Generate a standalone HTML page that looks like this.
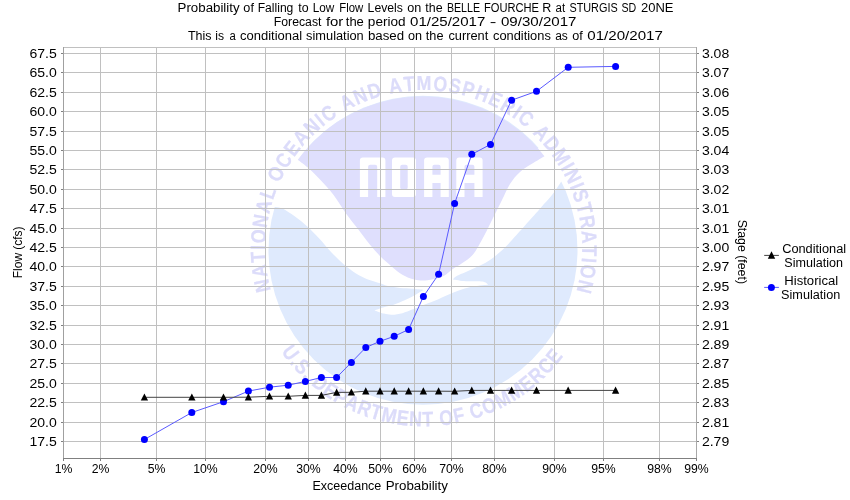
<!DOCTYPE html><html><head><meta charset="utf-8"><style>html,body{margin:0;padding:0;background:#fff;width:850px;height:500px;overflow:hidden}svg{display:block;will-change:transform}text{font-family:"Liberation Sans",sans-serif;stroke:none}.r text{stroke:#dcdcfa;stroke-width:0.25px}</style></head><body>
<svg width="850" height="500" viewBox="0 0 850 500">
<rect width="850" height="500" fill="#fff"/>
<g font-size="12" fill="#000">
<text x="177.59" y="11.7" textLength="62.04" lengthAdjust="spacingAndGlyphs">Probability</text>
<text x="243.37" y="11.7" textLength="10.54" lengthAdjust="spacingAndGlyphs">of</text>
<text x="257.69" y="11.7" textLength="35.67" lengthAdjust="spacingAndGlyphs">Falling</text>
<text x="298.19" y="11.7" textLength="10.33" lengthAdjust="spacingAndGlyphs">to</text>
<text x="312.82" y="11.7" textLength="21.54" lengthAdjust="spacingAndGlyphs">Low</text>
<text x="339.36" y="11.7" textLength="23.93" lengthAdjust="spacingAndGlyphs">Flow</text>
<text x="367.58" y="11.7" textLength="35.37" lengthAdjust="spacingAndGlyphs">Levels</text>
<text x="407.27" y="11.7" textLength="14.07" lengthAdjust="spacingAndGlyphs">on</text>
<text x="425.29" y="11.7" textLength="17.26" lengthAdjust="spacingAndGlyphs">the</text>
<text x="446.91" y="11.7" textLength="33.14" lengthAdjust="spacingAndGlyphs">BELLE</text>
<text x="483.97" y="11.7" textLength="55.08" lengthAdjust="spacingAndGlyphs">FOURCHE</text>
<text x="542.36" y="11.7" textLength="9.03" lengthAdjust="spacingAndGlyphs">R</text>
<text x="555.52" y="11.7" textLength="9.58" lengthAdjust="spacingAndGlyphs">at</text>
<text x="569.40" y="11.7" textLength="48.29" lengthAdjust="spacingAndGlyphs">STURGIS</text>
<text x="621.51" y="11.7" textLength="14.79" lengthAdjust="spacingAndGlyphs">SD</text>
<text x="640.95" y="11.7" textLength="32.51" lengthAdjust="spacingAndGlyphs">20NE</text>
<text x="273.78" y="25.9" textLength="47.71" lengthAdjust="spacingAndGlyphs">Forecast</text>
<text x="325.91" y="25.9" textLength="17.44" lengthAdjust="spacingAndGlyphs">for</text>
<text x="345.78" y="25.9" textLength="18.09" lengthAdjust="spacingAndGlyphs">the</text>
<text x="367.89" y="25.9" textLength="37.77" lengthAdjust="spacingAndGlyphs">period</text>
<text x="410.04" y="25.9" textLength="75.23" lengthAdjust="spacingAndGlyphs">01/25/2017</text>
<text x="489.89" y="25.9" textLength="6.61" lengthAdjust="spacingAndGlyphs">-</text>
<text x="500.93" y="25.9" textLength="75.54" lengthAdjust="spacingAndGlyphs">09/30/2017</text>
<text x="187.94" y="39.6" textLength="23.55" lengthAdjust="spacingAndGlyphs">This</text>
<text x="215.39" y="39.6" textLength="8.78" lengthAdjust="spacingAndGlyphs">is</text>
<text x="229.53" y="39.6" textLength="6.29" lengthAdjust="spacingAndGlyphs">a</text>
<text x="240.06" y="39.6" textLength="62.14" lengthAdjust="spacingAndGlyphs">conditional</text>
<text x="306.13" y="39.6" textLength="57.60" lengthAdjust="spacingAndGlyphs">simulation</text>
<text x="367.92" y="39.6" textLength="36.17" lengthAdjust="spacingAndGlyphs">based</text>
<text x="407.97" y="39.6" textLength="14.07" lengthAdjust="spacingAndGlyphs">on</text>
<text x="425.79" y="39.6" textLength="17.68" lengthAdjust="spacingAndGlyphs">the</text>
<text x="448.47" y="39.6" textLength="39.84" lengthAdjust="spacingAndGlyphs">current</text>
<text x="492.96" y="39.6" textLength="57.91" lengthAdjust="spacingAndGlyphs">conditions</text>
<text x="555.20" y="39.6" textLength="12.67" lengthAdjust="spacingAndGlyphs">as</text>
<text x="572.17" y="39.6" textLength="10.54" lengthAdjust="spacingAndGlyphs">of</text>
<text x="587.33" y="39.6" textLength="75.54" lengthAdjust="spacingAndGlyphs">01/20/2017</text>
</g>
<circle cx="423.0" cy="250.2" r="154.5" fill="#dfeafd"/>
<path d="M262 207L282 148L565 148L580 180L561.3 181.5L561.3 181.5C559.8 183.7 555.6 190.5 552.2 194.8C548.8 199.1 544.5 203.4 541.0 207.4C537.5 211.4 536.0 213.2 531.2 218.6C526.4 224.0 517.2 234.4 512.0 240.0C506.8 245.6 503.7 248.7 500.0 252.0C496.3 255.3 493.3 257.7 490.0 260.0C486.7 262.3 483.7 263.8 480.0 265.6C476.3 267.4 472.0 269.2 468.0 271.0C464.0 272.8 458.5 275.0 456.0 276.4C453.5 277.8 453.5 278.9 453.0 279.4L453.0 279.4C455.1 279.7 461.0 280.8 465.9 281.2C470.8 281.6 478.7 281.0 482.4 281.6C486.1 282.2 487.2 284.2 488.2 284.7L488.2 284.7C487.2 284.8 485.3 284.9 482.4 285.3C479.5 285.7 474.5 286.1 470.6 287.0C466.7 287.9 462.7 289.2 458.8 290.6C454.9 292.0 450.9 293.6 447.0 295.3C443.1 297.0 439.8 298.8 435.3 300.6C430.8 302.5 423.9 304.9 420.0 306.4C416.1 307.9 414.9 308.5 412.0 309.6C409.1 310.7 405.7 312.3 402.4 313.2C399.1 314.1 395.1 314.7 392.0 314.8C388.9 314.9 386.9 314.3 384.0 313.6C381.1 312.9 376.0 310.9 374.4 310.4L374.4 310.4C376.0 309.9 380.8 308.1 384.0 307.2C387.2 306.3 390.7 305.7 393.6 304.8C396.5 303.9 398.5 302.9 401.6 301.6C404.7 300.3 408.9 298.4 412.0 296.8C415.1 295.2 418.1 293.1 420.0 292.0C421.9 290.9 422.9 290.3 423.5 290.0L423.5 290.0C421.7 289.8 416.7 289.1 412.8 288.8C408.9 288.5 404.1 288.5 400.0 288.0C395.9 287.5 391.3 286.8 388.0 286.0C384.7 285.2 383.3 284.3 380.0 283.2C376.7 282.1 372.0 281.0 368.0 279.4C364.0 277.8 360.0 275.9 356.0 273.4C352.0 270.9 348.0 267.8 344.0 264.4C340.0 261.0 336.2 257.4 332.0 253.0C327.8 248.6 323.2 242.7 319.0 238.2C314.8 233.7 311.0 229.8 307.0 226.2C303.0 222.6 299.0 219.5 295.0 216.6C291.0 213.7 286.2 210.4 283.0 208.8C279.8 207.2 277.0 207.3 275.8 207.0Z" fill="#fff"/>
<path d="M297.8 159.8A154.5 154.5 0 0 1 544.5 156.3L544.5 156.3C542.8 157.4 538.1 160.0 534.0 162.6C529.9 165.2 524.0 168.4 520.0 172.0C516.0 175.6 513.0 179.3 510.0 184.0C507.0 188.7 504.7 194.7 502.0 200.0C499.3 205.3 497.0 210.0 494.0 216.0C491.0 222.0 487.5 229.5 484.0 236.0C480.5 242.5 476.5 250.3 472.8 254.8C469.1 259.3 465.4 260.8 462.0 263.2C458.6 265.6 455.4 267.1 452.4 269.2C449.4 271.3 446.9 274.2 444.0 275.8C441.1 277.4 438.5 278.0 435.3 278.8C432.1 279.6 428.5 280.4 425.0 280.5C421.5 280.6 418.2 280.6 414.4 279.6C410.6 278.7 406.2 277.0 402.4 274.8C398.6 272.6 395.2 269.4 391.6 266.4C388.0 263.4 384.5 260.5 380.8 256.8C377.1 253.1 373.5 248.9 369.6 244.2C365.7 239.5 361.6 233.8 357.6 228.6C353.6 223.4 349.6 218.6 345.6 213.0C341.6 207.4 337.9 200.6 333.6 195.0C329.3 189.4 324.1 184.0 320.0 179.6C315.9 175.2 312.9 172.1 309.2 168.8C305.5 165.5 299.7 161.3 297.8 159.8Z" fill="#dfdffd"/>
<g fill="#fff">
<path d="M359.9 197V160.4Q359.9 157.4 362.9 157.4H382.4Q385.4 157.4 385.4 160.4V197H377.2V166.8Q377.2 164.8 375.2 164.8H370.1Q368.1 164.8 368.1 166.8V197Z"/>
<path fill-rule="evenodd" d="M392 160.4Q392 157.4 395 157.4H413Q416 157.4 416 160.4V194Q416 197 413 197H395Q392 197 392 194Z M400.2 166.8V187.5Q400.2 189.5 402.2 189.5H405.7Q407.7 189.5 407.7 187.5V166.8Q407.7 164.8 405.7 164.8H402.2Q400.2 164.8 400.2 166.8Z"/>
<path fill-rule="evenodd" d="M424.1 197V160.4Q424.1 157.4 427.1 157.4H445.8Q448.8 157.4 448.8 160.4V197H440.6V183H432.4V197Z M432.4 166.8V174.7H440.6V166.8Q440.6 164.8 438.6 164.8H434.4Q432.4 164.8 432.4 166.8Z"/>
<path fill-rule="evenodd" d="M456.3 197V160.4Q456.3 157.4 459.3 157.4H479.6Q482.6 157.4 482.6 160.4V197H474.4V183H464.5V197Z M464.5 166.8V174.7H474.4V166.8Q474.4 164.8 472.4 164.8H466.5Q464.5 164.8 464.5 166.8Z"/>
</g>
<g class="r" font-size="21" font-weight="bold" fill="#dcdcfa" text-anchor="middle">
<text transform="translate(269.28,284.10) rotate(257.13) scale(0.85,1)">N</text>
<text transform="translate(266.73,270.07) rotate(262.29) scale(0.85,1)">A</text>
<text transform="translate(265.50,256.85) rotate(267.09) scale(0.85,1)">T</text>
<text transform="translate(265.30,247.54) rotate(270.45) scale(0.85,1)">I</text>
<text transform="translate(265.76,236.75) rotate(274.36) scale(0.85,1)">O</text>
<text transform="translate(267.56,222.10) rotate(279.70) scale(0.85,1)">N</text>
<text transform="translate(270.60,208.16) rotate(284.86) scale(0.85,1)">A</text>
<text transform="translate(274.54,195.49) rotate(289.66) scale(0.85,1)">L</text>
<text transform="translate(282.48,177.02) rotate(296.93) scale(0.85,1)">O</text>
<text transform="translate(289.77,164.19) rotate(302.26) scale(0.85,1)">C</text>
<text transform="translate(297.63,152.87) rotate(307.25) scale(0.85,1)">E</text>
<text transform="translate(306.43,142.28) rotate(312.23) scale(0.85,1)">A</text>
<text transform="translate(316.48,132.16) rotate(317.38) scale(0.85,1)">N</text>
<text transform="translate(324.29,125.43) rotate(321.11) scale(0.85,1)">I</text>
<text transform="translate(332.51,119.23) rotate(324.83) scale(0.85,1)">C</text>
<text transform="translate(350.09,108.48) rotate(332.28) scale(0.85,1)">A</text>
<text transform="translate(363.00,102.42) rotate(337.44) scale(0.85,1)">N</text>
<text transform="translate(376.41,97.55) rotate(342.60) scale(0.85,1)">D</text>
<text transform="translate(396.42,92.68) rotate(350.05) scale(0.85,1)">A</text>
<text transform="translate(409.58,90.94) rotate(354.85) scale(0.85,1)">T</text>
<text transform="translate(423.83,90.30) rotate(360.01) scale(0.85,1)">M</text>
<text transform="translate(439.56,91.09) rotate(365.71) scale(0.85,1)">O</text>
<text transform="translate(453.68,93.14) rotate(370.87) scale(0.85,1)">S</text>
<text transform="translate(466.60,96.19) rotate(375.67) scale(0.85,1)">P</text>
<text transform="translate(479.69,100.48) rotate(380.65) scale(0.85,1)">H</text>
<text transform="translate(492.36,105.89) rotate(385.63) scale(0.85,1)">E</text>
<text transform="translate(504.51,112.39) rotate(390.61) scale(0.85,1)">R</text>
<text transform="translate(513.20,117.92) rotate(394.33) scale(0.85,1)">I</text>
<text transform="translate(521.51,124.00) rotate(398.06) scale(0.85,1)">C</text>
<text transform="translate(536.87,137.73) rotate(405.51) scale(0.85,1)">A</text>
<text transform="translate(546.40,148.34) rotate(410.67) scale(0.85,1)">D</text>
<text transform="translate(555.49,160.59) rotate(416.19) scale(0.85,1)">M</text>
<text transform="translate(561.43,170.19) rotate(420.27) scale(0.85,1)">I</text>
<text transform="translate(566.25,179.30) rotate(423.99) scale(0.85,1)">N</text>
<text transform="translate(570.47,188.70) rotate(427.72) scale(0.85,1)">I</text>
<text transform="translate(573.90,197.89) rotate(431.27) scale(0.85,1)">S</text>
<text transform="translate(577.52,210.15) rotate(435.89) scale(0.85,1)">T</text>
<text transform="translate(580.21,223.15) rotate(440.69) scale(0.85,1)">R</text>
<text transform="translate(581.88,237.32) rotate(445.85) scale(0.85,1)">A</text>
<text transform="translate(582.29,250.58) rotate(450.64) scale(0.85,1)">T</text>
<text transform="translate(581.91,259.89) rotate(454.01) scale(0.85,1)">I</text>
<text transform="translate(580.79,270.63) rotate(457.92) scale(0.85,1)">O</text>
<text transform="translate(578.08,285.14) rotate(463.25) scale(0.85,1)">N</text>
<text transform="translate(284.77,356.79) rotate(53.13) scale(0.85,1)">U</text>
<text transform="translate(290.93,364.53) rotate(49.86) scale(0.85,1)">.</text>
<text transform="translate(297.18,371.55) rotate(46.76) scale(0.85,1)">S</text>
<text transform="translate(303.80,378.23) rotate(43.66) scale(0.85,1)">.</text>
<text transform="translate(315.73,388.62) rotate(38.45) scale(0.85,1)">D</text>
<text transform="translate(326.51,396.52) rotate(34.04) scale(0.85,1)">E</text>
<text transform="translate(337.44,403.32) rotate(29.80) scale(0.85,1)">P</text>
<text transform="translate(349.28,409.51) rotate(25.39) scale(0.85,1)">A</text>
<text transform="translate(362.03,414.95) rotate(20.82) scale(0.85,1)">R</text>
<text transform="translate(374.21,419.08) rotate(16.58) scale(0.85,1)">T</text>
<text transform="translate(387.64,422.50) rotate(12.01) scale(0.85,1)">M</text>
<text transform="translate(401.79,424.90) rotate(7.28) scale(0.85,1)">E</text>
<text transform="translate(415.10,426.08) rotate(2.87) scale(0.85,1)">N</text>
<text transform="translate(427.96,426.25) rotate(-1.37) scale(0.85,1)">T</text>
<text transform="translate(447.19,424.72) rotate(-7.73) scale(0.85,1)">O</text>
<text transform="translate(460.35,422.41) rotate(-12.14) scale(0.85,1)">F</text>
<text transform="translate(478.47,417.48) rotate(-18.34) scale(0.85,1)">C</text>
<text transform="translate(491.90,412.40) rotate(-23.07) scale(0.85,1)">O</text>
<text transform="translate(505.74,405.77) rotate(-28.13) scale(0.85,1)">M</text>
<text transform="translate(519.35,397.68) rotate(-33.35) scale(0.85,1)">M</text>
<text transform="translate(531.00,389.30) rotate(-38.08) scale(0.85,1)">E</text>
<text transform="translate(541.19,380.66) rotate(-42.49) scale(0.85,1)">R</text>
<text transform="translate(551.03,370.90) rotate(-47.06) scale(0.85,1)">C</text>
<text transform="translate(559.75,360.77) rotate(-51.47) scale(0.85,1)">E</text>
</g>
<g stroke="#c0c0c0" stroke-width="1" shape-rendering="crispEdges">
<line x1="63" y1="53.5" x2="697" y2="53.5"/>
<line x1="63" y1="72.5" x2="697" y2="72.5"/>
<line x1="63" y1="92.5" x2="697" y2="92.5"/>
<line x1="63" y1="111.5" x2="697" y2="111.5"/>
<line x1="63" y1="131.5" x2="697" y2="131.5"/>
<line x1="63" y1="150.5" x2="697" y2="150.5"/>
<line x1="63" y1="169.5" x2="697" y2="169.5"/>
<line x1="63" y1="189.5" x2="697" y2="189.5"/>
<line x1="63" y1="208.5" x2="697" y2="208.5"/>
<line x1="63" y1="228.5" x2="697" y2="228.5"/>
<line x1="63" y1="247.5" x2="697" y2="247.5"/>
<line x1="63" y1="266.5" x2="697" y2="266.5"/>
<line x1="63" y1="286.5" x2="697" y2="286.5"/>
<line x1="63" y1="305.5" x2="697" y2="305.5"/>
<line x1="63" y1="325.5" x2="697" y2="325.5"/>
<line x1="63" y1="344.5" x2="697" y2="344.5"/>
<line x1="63" y1="363.5" x2="697" y2="363.5"/>
<line x1="63" y1="383.5" x2="697" y2="383.5"/>
<line x1="63" y1="402.5" x2="697" y2="402.5"/>
<line x1="63" y1="422.5" x2="697" y2="422.5"/>
<line x1="63" y1="441.5" x2="697" y2="441.5"/>
<line x1="63.5" y1="47" x2="63.5" y2="458"/>
<line x1="100.5" y1="47" x2="100.5" y2="458"/>
<line x1="156.5" y1="47" x2="156.5" y2="458"/>
<line x1="205.5" y1="47" x2="205.5" y2="458"/>
<line x1="265.5" y1="47" x2="265.5" y2="458"/>
<line x1="308.5" y1="47" x2="308.5" y2="458"/>
<line x1="345.5" y1="47" x2="345.5" y2="458"/>
<line x1="380.5" y1="47" x2="380.5" y2="458"/>
<line x1="414.5" y1="47" x2="414.5" y2="458"/>
<line x1="451.5" y1="47" x2="451.5" y2="458"/>
<line x1="494.5" y1="47" x2="494.5" y2="458"/>
<line x1="554.5" y1="47" x2="554.5" y2="458"/>
<line x1="603.5" y1="47" x2="603.5" y2="458"/>
<line x1="659.5" y1="47" x2="659.5" y2="458"/>
<line x1="696.5" y1="47" x2="696.5" y2="458"/>
<line x1="63" y1="47.5" x2="697" y2="47.5"/>
</g>
<g stroke="#808080" stroke-width="1" shape-rendering="crispEdges">
<line x1="63.5" y1="47" x2="63.5" y2="459" stroke="#a0a0a0"/>
<line x1="696.5" y1="47" x2="696.5" y2="459" stroke="#a8a8a8"/>
<line x1="63" y1="458.5" x2="697" y2="458.5"/>
<line x1="61" y1="53.5" x2="63" y2="53.5"/>
<line x1="697" y1="53.5" x2="699" y2="53.5"/>
<line x1="61" y1="72.5" x2="63" y2="72.5"/>
<line x1="697" y1="72.5" x2="699" y2="72.5"/>
<line x1="61" y1="92.5" x2="63" y2="92.5"/>
<line x1="697" y1="92.5" x2="699" y2="92.5"/>
<line x1="61" y1="111.5" x2="63" y2="111.5"/>
<line x1="697" y1="111.5" x2="699" y2="111.5"/>
<line x1="61" y1="131.5" x2="63" y2="131.5"/>
<line x1="697" y1="131.5" x2="699" y2="131.5"/>
<line x1="61" y1="150.5" x2="63" y2="150.5"/>
<line x1="697" y1="150.5" x2="699" y2="150.5"/>
<line x1="61" y1="169.5" x2="63" y2="169.5"/>
<line x1="697" y1="169.5" x2="699" y2="169.5"/>
<line x1="61" y1="189.5" x2="63" y2="189.5"/>
<line x1="697" y1="189.5" x2="699" y2="189.5"/>
<line x1="61" y1="208.5" x2="63" y2="208.5"/>
<line x1="697" y1="208.5" x2="699" y2="208.5"/>
<line x1="61" y1="228.5" x2="63" y2="228.5"/>
<line x1="697" y1="228.5" x2="699" y2="228.5"/>
<line x1="61" y1="247.5" x2="63" y2="247.5"/>
<line x1="697" y1="247.5" x2="699" y2="247.5"/>
<line x1="61" y1="266.5" x2="63" y2="266.5"/>
<line x1="697" y1="266.5" x2="699" y2="266.5"/>
<line x1="61" y1="286.5" x2="63" y2="286.5"/>
<line x1="697" y1="286.5" x2="699" y2="286.5"/>
<line x1="61" y1="305.5" x2="63" y2="305.5"/>
<line x1="697" y1="305.5" x2="699" y2="305.5"/>
<line x1="61" y1="325.5" x2="63" y2="325.5"/>
<line x1="697" y1="325.5" x2="699" y2="325.5"/>
<line x1="61" y1="344.5" x2="63" y2="344.5"/>
<line x1="697" y1="344.5" x2="699" y2="344.5"/>
<line x1="61" y1="363.5" x2="63" y2="363.5"/>
<line x1="697" y1="363.5" x2="699" y2="363.5"/>
<line x1="61" y1="383.5" x2="63" y2="383.5"/>
<line x1="697" y1="383.5" x2="699" y2="383.5"/>
<line x1="61" y1="402.5" x2="63" y2="402.5"/>
<line x1="697" y1="402.5" x2="699" y2="402.5"/>
<line x1="61" y1="422.5" x2="63" y2="422.5"/>
<line x1="697" y1="422.5" x2="699" y2="422.5"/>
<line x1="61" y1="441.5" x2="63" y2="441.5"/>
<line x1="697" y1="441.5" x2="699" y2="441.5"/>
<line x1="63.5" y1="459" x2="63.5" y2="461"/>
<line x1="100.5" y1="459" x2="100.5" y2="461"/>
<line x1="156.5" y1="459" x2="156.5" y2="461"/>
<line x1="205.5" y1="459" x2="205.5" y2="461"/>
<line x1="265.5" y1="459" x2="265.5" y2="461"/>
<line x1="308.5" y1="459" x2="308.5" y2="461"/>
<line x1="345.5" y1="459" x2="345.5" y2="461"/>
<line x1="380.5" y1="459" x2="380.5" y2="461"/>
<line x1="414.5" y1="459" x2="414.5" y2="461"/>
<line x1="451.5" y1="459" x2="451.5" y2="461"/>
<line x1="494.5" y1="459" x2="494.5" y2="461"/>
<line x1="554.5" y1="459" x2="554.5" y2="461"/>
<line x1="603.5" y1="459" x2="603.5" y2="461"/>
<line x1="659.5" y1="459" x2="659.5" y2="461"/>
<line x1="696.5" y1="459" x2="696.5" y2="461"/>
</g>
<g font-size="12" fill="#000">
<text x="56.8" y="57.9" text-anchor="end" textLength="27.33" lengthAdjust="spacingAndGlyphs">67.5</text>
<text x="701.9" y="57.9" textLength="27.33" lengthAdjust="spacingAndGlyphs">3.08</text>
<text x="56.8" y="76.9" text-anchor="end" textLength="27.33" lengthAdjust="spacingAndGlyphs">65.0</text>
<text x="701.9" y="76.9" textLength="27.33" lengthAdjust="spacingAndGlyphs">3.07</text>
<text x="56.8" y="96.9" text-anchor="end" textLength="27.33" lengthAdjust="spacingAndGlyphs">62.5</text>
<text x="701.9" y="96.9" textLength="27.33" lengthAdjust="spacingAndGlyphs">3.06</text>
<text x="56.8" y="115.9" text-anchor="end" textLength="27.33" lengthAdjust="spacingAndGlyphs">60.0</text>
<text x="701.9" y="115.9" textLength="27.33" lengthAdjust="spacingAndGlyphs">3.05</text>
<text x="56.8" y="135.9" text-anchor="end" textLength="27.33" lengthAdjust="spacingAndGlyphs">57.5</text>
<text x="701.9" y="135.9" textLength="27.33" lengthAdjust="spacingAndGlyphs">3.05</text>
<text x="56.8" y="154.9" text-anchor="end" textLength="27.33" lengthAdjust="spacingAndGlyphs">55.0</text>
<text x="701.9" y="154.9" textLength="27.33" lengthAdjust="spacingAndGlyphs">3.04</text>
<text x="56.8" y="173.9" text-anchor="end" textLength="27.33" lengthAdjust="spacingAndGlyphs">52.5</text>
<text x="701.9" y="173.9" textLength="27.33" lengthAdjust="spacingAndGlyphs">3.03</text>
<text x="56.8" y="193.9" text-anchor="end" textLength="27.33" lengthAdjust="spacingAndGlyphs">50.0</text>
<text x="701.9" y="193.9" textLength="27.33" lengthAdjust="spacingAndGlyphs">3.02</text>
<text x="56.8" y="212.9" text-anchor="end" textLength="27.33" lengthAdjust="spacingAndGlyphs">47.5</text>
<text x="701.9" y="212.9" textLength="27.33" lengthAdjust="spacingAndGlyphs">3.01</text>
<text x="56.8" y="232.9" text-anchor="end" textLength="27.33" lengthAdjust="spacingAndGlyphs">45.0</text>
<text x="701.9" y="232.9" textLength="27.33" lengthAdjust="spacingAndGlyphs">3.01</text>
<text x="56.8" y="251.9" text-anchor="end" textLength="27.33" lengthAdjust="spacingAndGlyphs">42.5</text>
<text x="701.9" y="251.9" textLength="27.33" lengthAdjust="spacingAndGlyphs">3.00</text>
<text x="56.8" y="270.9" text-anchor="end" textLength="27.33" lengthAdjust="spacingAndGlyphs">40.0</text>
<text x="701.9" y="270.9" textLength="27.33" lengthAdjust="spacingAndGlyphs">2.97</text>
<text x="56.8" y="290.9" text-anchor="end" textLength="27.33" lengthAdjust="spacingAndGlyphs">37.5</text>
<text x="701.9" y="290.9" textLength="27.33" lengthAdjust="spacingAndGlyphs">2.95</text>
<text x="56.8" y="309.9" text-anchor="end" textLength="27.33" lengthAdjust="spacingAndGlyphs">35.0</text>
<text x="701.9" y="309.9" textLength="27.33" lengthAdjust="spacingAndGlyphs">2.93</text>
<text x="56.8" y="329.9" text-anchor="end" textLength="27.33" lengthAdjust="spacingAndGlyphs">32.5</text>
<text x="701.9" y="329.9" textLength="27.33" lengthAdjust="spacingAndGlyphs">2.91</text>
<text x="56.8" y="348.9" text-anchor="end" textLength="27.33" lengthAdjust="spacingAndGlyphs">30.0</text>
<text x="701.9" y="348.9" textLength="27.33" lengthAdjust="spacingAndGlyphs">2.89</text>
<text x="56.8" y="367.9" text-anchor="end" textLength="27.33" lengthAdjust="spacingAndGlyphs">27.5</text>
<text x="701.9" y="367.9" textLength="27.33" lengthAdjust="spacingAndGlyphs">2.87</text>
<text x="56.8" y="387.9" text-anchor="end" textLength="27.33" lengthAdjust="spacingAndGlyphs">25.0</text>
<text x="701.9" y="387.9" textLength="27.33" lengthAdjust="spacingAndGlyphs">2.85</text>
<text x="56.8" y="406.9" text-anchor="end" textLength="27.33" lengthAdjust="spacingAndGlyphs">22.5</text>
<text x="701.9" y="406.9" textLength="27.33" lengthAdjust="spacingAndGlyphs">2.83</text>
<text x="56.8" y="426.9" text-anchor="end" textLength="27.33" lengthAdjust="spacingAndGlyphs">20.0</text>
<text x="701.9" y="426.9" textLength="27.33" lengthAdjust="spacingAndGlyphs">2.81</text>
<text x="56.8" y="445.9" text-anchor="end" textLength="27.33" lengthAdjust="spacingAndGlyphs">17.5</text>
<text x="701.9" y="445.9" textLength="27.33" lengthAdjust="spacingAndGlyphs">2.79</text>
<text x="63.5" y="472.6" text-anchor="middle" textLength="17.69" lengthAdjust="spacingAndGlyphs">1%</text>
<text x="100.5" y="472.6" text-anchor="middle" textLength="17.69" lengthAdjust="spacingAndGlyphs">2%</text>
<text x="156.5" y="472.6" text-anchor="middle" textLength="17.69" lengthAdjust="spacingAndGlyphs">5%</text>
<text x="205.5" y="472.6" text-anchor="middle" textLength="24.50" lengthAdjust="spacingAndGlyphs">10%</text>
<text x="265.5" y="472.6" text-anchor="middle" textLength="24.50" lengthAdjust="spacingAndGlyphs">20%</text>
<text x="308.5" y="472.6" text-anchor="middle" textLength="24.50" lengthAdjust="spacingAndGlyphs">30%</text>
<text x="345.5" y="472.6" text-anchor="middle" textLength="24.50" lengthAdjust="spacingAndGlyphs">40%</text>
<text x="380.5" y="472.6" text-anchor="middle" textLength="24.50" lengthAdjust="spacingAndGlyphs">50%</text>
<text x="414.5" y="472.6" text-anchor="middle" textLength="24.50" lengthAdjust="spacingAndGlyphs">60%</text>
<text x="451.5" y="472.6" text-anchor="middle" textLength="24.50" lengthAdjust="spacingAndGlyphs">70%</text>
<text x="494.5" y="472.6" text-anchor="middle" textLength="24.50" lengthAdjust="spacingAndGlyphs">80%</text>
<text x="554.5" y="472.6" text-anchor="middle" textLength="24.50" lengthAdjust="spacingAndGlyphs">90%</text>
<text x="603.5" y="472.6" text-anchor="middle" textLength="24.50" lengthAdjust="spacingAndGlyphs">95%</text>
<text x="659.5" y="472.6" text-anchor="middle" textLength="24.50" lengthAdjust="spacingAndGlyphs">98%</text>
<text x="696.5" y="472.6" text-anchor="middle" textLength="24.50" lengthAdjust="spacingAndGlyphs">99%</text>
<text x="312.46" y="489.6" textLength="68.86" lengthAdjust="spacingAndGlyphs">Exceedance</text>
<text x="385.69" y="489.6" textLength="62.24" lengthAdjust="spacingAndGlyphs">Probability</text>
<text transform="translate(21.7,278.20) rotate(-90)" textLength="51.74" lengthAdjust="spacingAndGlyphs">Flow (cfs)</text>
<text transform="translate(738.2,219.64) rotate(90)" textLength="64.34" lengthAdjust="spacingAndGlyphs">Stage (feet)</text>
</g>
<polyline fill="none" stroke="#5a5aff" stroke-width="1" points="144.4,439.5 191.8,412.5 223.5,401.7 248.4,391.1 269.5,387.2 288.2,385.2 305.4,381.4 321.4,377.5 336.6,377.5 351.4,362.4 365.8,347.5 380.0,341.3 394.2,336.3 408.6,329.5 423.4,296.5 438.6,274.3 454.6,203.5 471.8,154.3 490.5,144.4 511.6,100.2 536.5,91.3 568.2,67.3 615.6,66.4"/>
<polyline fill="none" stroke="#444" stroke-width="1" points="144.4,397.3 191.8,397.3 223.5,397.3 248.4,397.2 269.5,396.3 288.2,396.3 305.4,395.4 321.4,395.4 336.6,392.4 351.4,392.3 365.8,391.2 380.0,391.2 394.2,391.2 408.6,391.2 423.4,391.2 438.6,391.2 454.6,391.3 471.8,390.4 490.5,390.4 511.6,390.4 536.5,390.4 568.2,390.4 615.6,390.4"/>
<circle cx="144.4" cy="439.5" r="3.5" fill="#00f"/>
<circle cx="191.8" cy="412.5" r="3.5" fill="#00f"/>
<circle cx="223.5" cy="401.7" r="3.5" fill="#00f"/>
<circle cx="248.4" cy="391.1" r="3.5" fill="#00f"/>
<circle cx="269.5" cy="387.2" r="3.5" fill="#00f"/>
<circle cx="288.2" cy="385.2" r="3.5" fill="#00f"/>
<circle cx="305.4" cy="381.4" r="3.5" fill="#00f"/>
<circle cx="321.4" cy="377.5" r="3.5" fill="#00f"/>
<circle cx="336.6" cy="377.5" r="3.5" fill="#00f"/>
<circle cx="351.4" cy="362.4" r="3.5" fill="#00f"/>
<circle cx="365.8" cy="347.5" r="3.5" fill="#00f"/>
<circle cx="380.0" cy="341.3" r="3.5" fill="#00f"/>
<circle cx="394.2" cy="336.3" r="3.5" fill="#00f"/>
<circle cx="408.6" cy="329.5" r="3.5" fill="#00f"/>
<circle cx="423.4" cy="296.5" r="3.5" fill="#00f"/>
<circle cx="438.6" cy="274.3" r="3.5" fill="#00f"/>
<circle cx="454.6" cy="203.5" r="3.5" fill="#00f"/>
<circle cx="471.8" cy="154.3" r="3.5" fill="#00f"/>
<circle cx="490.5" cy="144.4" r="3.5" fill="#00f"/>
<circle cx="511.6" cy="100.2" r="3.5" fill="#00f"/>
<circle cx="536.5" cy="91.3" r="3.5" fill="#00f"/>
<circle cx="568.2" cy="67.3" r="3.5" fill="#00f"/>
<circle cx="615.6" cy="66.4" r="3.5" fill="#00f"/>
<path d="M144.41 393.40L148.06 400.60L140.76 400.60Z" fill="#000"/>
<path d="M191.84 393.40L195.49 400.60L188.19 400.60Z" fill="#000"/>
<path d="M223.49 393.40L227.14 400.60L219.84 400.60Z" fill="#000"/>
<path d="M248.38 393.30L252.03 400.50L244.73 400.50Z" fill="#000"/>
<path d="M269.50 392.40L273.15 399.60L265.85 399.60Z" fill="#000"/>
<path d="M288.24 392.40L291.89 399.60L284.59 399.60Z" fill="#000"/>
<path d="M305.37 391.50L309.02 398.70L301.72 398.70Z" fill="#000"/>
<path d="M321.40 391.50L325.05 398.70L317.75 398.70Z" fill="#000"/>
<path d="M336.65 388.50L340.30 395.70L333.00 395.70Z" fill="#000"/>
<path d="M351.37 388.40L355.02 395.60L347.72 395.60Z" fill="#000"/>
<path d="M365.76 387.30L369.41 394.50L362.11 394.50Z" fill="#000"/>
<path d="M380.00 387.30L383.65 394.50L376.35 394.50Z" fill="#000"/>
<path d="M394.24 387.30L397.89 394.50L390.59 394.50Z" fill="#000"/>
<path d="M408.63 387.30L412.28 394.50L404.98 394.50Z" fill="#000"/>
<path d="M423.35 387.30L427.00 394.50L419.70 394.50Z" fill="#000"/>
<path d="M438.60 387.30L442.25 394.50L434.95 394.50Z" fill="#000"/>
<path d="M454.63 387.40L458.28 394.60L450.98 394.60Z" fill="#000"/>
<path d="M471.76 386.50L475.41 393.70L468.11 393.70Z" fill="#000"/>
<path d="M490.50 386.50L494.15 393.70L486.85 393.70Z" fill="#000"/>
<path d="M511.62 386.50L515.27 393.70L507.97 393.70Z" fill="#000"/>
<path d="M536.51 386.50L540.16 393.70L532.86 393.70Z" fill="#000"/>
<path d="M568.16 386.50L571.81 393.70L564.51 393.70Z" fill="#000"/>
<path d="M615.59 386.50L619.24 393.70L611.94 393.70Z" fill="#000"/>
<line x1="764.2" y1="255.4" x2="778.9" y2="255.4" stroke="#444" stroke-width="1"/>
<path d="M771.5 251.3L775.2 258.7L767.8 258.7Z" fill="#000"/>
<line x1="764.2" y1="287.4" x2="778.9" y2="287.4" stroke="#5a5aff" stroke-width="1"/>
<circle cx="771.4" cy="287.4" r="3.5" fill="#00f"/>
<g font-size="12" fill="#000">
<text x="782.16" y="252.7" textLength="63.99" lengthAdjust="spacingAndGlyphs">Conditional</text>
<text x="784.32" y="266.5" textLength="58.59" lengthAdjust="spacingAndGlyphs">Simulation</text>
<text x="784.31" y="284.7" textLength="53.86" lengthAdjust="spacingAndGlyphs">Historical</text>
<text x="781.12" y="298.5" textLength="59.10" lengthAdjust="spacingAndGlyphs">Simulation</text>
</g>
</svg></body></html>
